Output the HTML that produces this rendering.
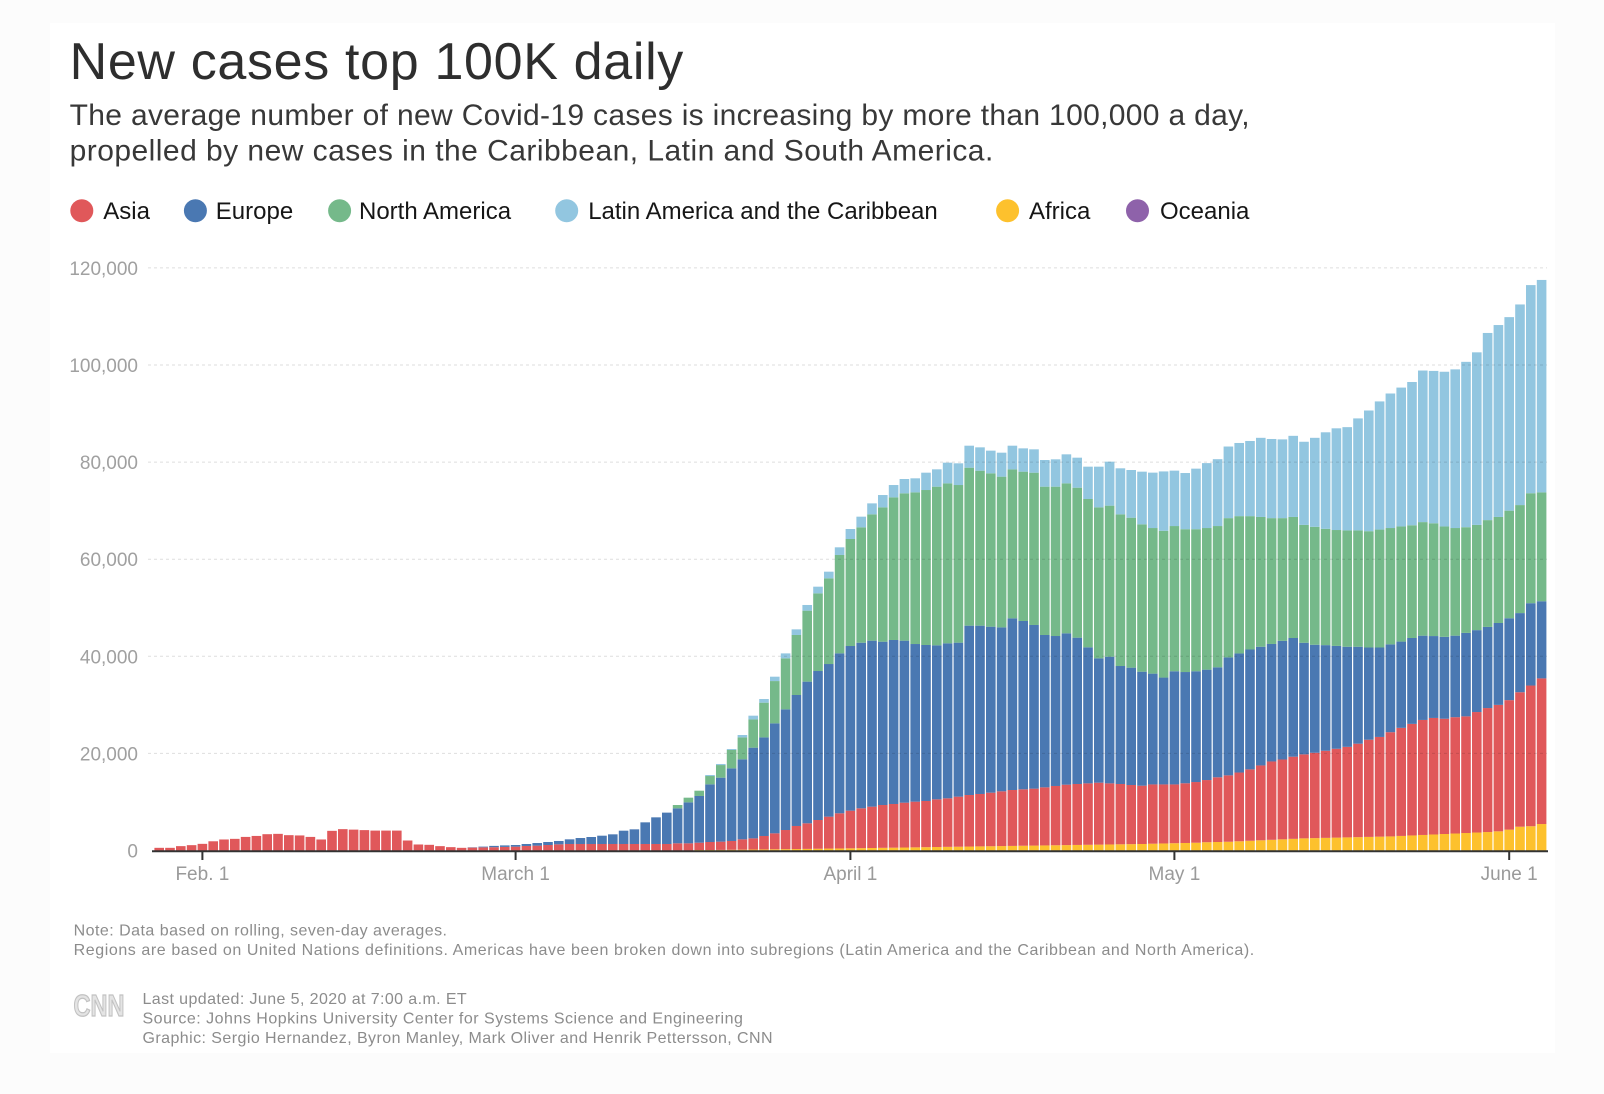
<!DOCTYPE html>
<html>
<head>
<meta charset="utf-8">
<style>
  html,body{margin:0;padding:0;background:#fcfcfc;}
  svg{display:block;font-family:"Liberation Sans",Arial,sans-serif;}
</style>
</head>
<body>
<svg id="chart" width="1604" height="1094" viewBox="0 0 1604 1094" xmlns="http://www.w3.org/2000/svg">
  <rect x="0" y="0" width="1604" height="1094" fill="#fcfcfc"/>
  <rect x="50" y="23" width="1505" height="1030" fill="#ffffff"/>

  <!-- Title -->
  <text x="69.6" y="79" font-size="52" fill="#2e2e2e" textLength="613.7" lengthAdjust="spacing">New cases top 100K daily</text>
  <text x="69.6" y="124.8" font-size="30" fill="#383838" textLength="1180" lengthAdjust="spacing">The average number of new Covid-19 cases is increasing by more than 100,000 a day,</text>
  <text x="69.6" y="160.6" font-size="30" fill="#383838" textLength="923.7" lengthAdjust="spacing">propelled by new cases in the Caribbean, Latin and South America.</text>

  <!-- Legend -->
  <g font-size="24" fill="#161616">
    <circle cx="81.8" cy="210.7" r="11.5" fill="#e0585a"/>
    <text x="103.3" y="219">Asia</text>
    <circle cx="195.4" cy="210.7" r="11.5" fill="#4a78b2"/>
    <text x="215.8" y="219">Europe</text>
    <circle cx="339.6" cy="210.7" r="11.5" fill="#75b98a"/>
    <text x="359" y="219">North America</text>
    <circle cx="566.7" cy="210.7" r="11.5" fill="#92c6e0"/>
    <text x="588.2" y="219">Latin America and the Caribbean</text>
    <circle cx="1007.6" cy="210.7" r="11.5" fill="#fdc12d"/>
    <text x="1029" y="219">Africa</text>
    <circle cx="1137.5" cy="210.7" r="11.5" fill="#8e62aa"/>
    <text x="1160" y="219">Oceania</text>
  </g>

  <!-- Y axis labels -->
  <g font-size="19" fill="#a0a0a0" text-anchor="end">
    <text x="138" y="274.9">120,000</text>
    <text x="138" y="372">100,000</text>
    <text x="138" y="469.1">80,000</text>
    <text x="138" y="566.2">60,000</text>
    <text x="138" y="663.3">40,000</text>
    <text x="138" y="760.4">20,000</text>
    <text x="138" y="857.5">0</text>
  </g>

  <!-- bars -->
  <g id="bars"></g>

  <!-- gridlines on top -->
  <g stroke="#000" stroke-opacity="0.13" stroke-width="1" stroke-dasharray="3,3">
    <line x1="148" y1="267.9" x2="1547" y2="267.9"/>
    <line x1="148" y1="365" x2="1547" y2="365"/>
    <line x1="148" y1="462.1" x2="1547" y2="462.1"/>
    <line x1="148" y1="559.2" x2="1547" y2="559.2"/>
    <line x1="148" y1="656.3" x2="1547" y2="656.3"/>
    <line x1="148" y1="753.4" x2="1547" y2="753.4"/>
  </g>

  <!-- baseline & ticks -->
  <line x1="152" y1="851.3" x2="1548" y2="851.3" stroke="#333" stroke-width="2"/>
  <g stroke="#333" stroke-width="2">
    <line x1="202.4" y1="851" x2="202.4" y2="860"/>
    <line x1="515.6" y1="851" x2="515.6" y2="860"/>
    <line x1="850.4" y1="851" x2="850.4" y2="860"/>
    <line x1="1174.4" y1="851" x2="1174.4" y2="860"/>
    <line x1="1509.2" y1="851" x2="1509.2" y2="860"/>
  </g>
  <g font-size="19" fill="#9a9a9a" text-anchor="middle">
    <text x="202.4" y="880">Feb. 1</text>
    <text x="515.6" y="880">March 1</text>
    <text x="850.4" y="880">April 1</text>
    <text x="1174.4" y="880">May 1</text>
    <text x="1509.2" y="880">June 1</text>
  </g>

  <!-- Notes -->
  <g font-size="16" fill="#8c8c8c">
    <text x="73.6" y="935.5" textLength="373.4" lengthAdjust="spacing">Note: Data based on rolling, seven-day averages.</text>
    <text x="73.6" y="955" textLength="1180.6" lengthAdjust="spacing">Regions are based on United Nations definitions. Americas have been broken down into subregions (Latin America and the Caribbean and North America).</text>
  </g>

  <!-- CNN logo -->
  <text x="73.5" y="1016" font-size="31" font-weight="bold" fill="#e4e4e4" stroke="#c2c2c2" stroke-width="1.3" textLength="51" lengthAdjust="spacingAndGlyphs">CNN</text>

  <!-- Footer -->
  <g font-size="16" fill="#8c8c8c">
    <text x="142.5" y="1004" textLength="324.2" lengthAdjust="spacing">Last updated: June 5, 2020 at 7:00 a.m. ET</text>
    <text x="142.5" y="1023.5" textLength="600.4" lengthAdjust="spacing">Source: Johns Hopkins University Center for Systems Science and Engineering</text>
    <text x="142.5" y="1043" textLength="630.1" lengthAdjust="spacing">Graphic: Sergio Hernandez, Byron Manley, Mark Oliver and Henrik Pettersson, CNN</text>
  </g>
</svg>

<script>
(function(){
  var R=[0.55,0.55,0.9,1.1,1.37,1.9,2.27,2.4,2.8,3.0,3.36,3.43,3.16,3.1,2.8,2.27,4.05,4.4,4.3,4.2,4.1,4.1,4.1,2.06,1.24,1.17,0.9,0.69,0.55,0.6,0.65,0.68,0.74,
  0.79,0.93,1.0,1.13,1.27,1.34,1.34,1.34,1.34,1.34,1.34,1.34,1.34,1.34,1.34,
  1.48,1.48,1.61,1.75,1.82,1.96,2.3,2.5,2.99,3.54,4.22,5.05,5.6,6.28,6.97,7.66,
  8.2,8.69,9.03,9.37,9.58,9.85,10.06,10.2,10.54,10.75,11.09,11.43,11.64,11.91,12.19,12.46,12.6,12.74,13.01,13.29,13.56,13.7,13.83,13.97,13.83,13.7,13.49,13.35,
  13.61,13.61,13.61,13.85,14.1,14.51,15.08,15.48,16.06,16.71,17.52,18.34,18.74,19.32,19.8,20.13,20.54,20.95,21.35,22.0,22.82,23.39,24.37,25.26,26.08,26.89,27.3,27.14,27.46,27.63,28.52,29.34,29.99,30.97,32.6,33.98,35.45];

  var B=[0.55,0.55,0.9,1.1,1.37,1.9,2.27,2.4,2.8,3.0,3.36,3.43,3.16,3.1,2.8,2.27,4.05,4.4,4.3,4.2,4.1,4.1,4.1,2.06,1.24,1.17,0.9,0.69,0.55,0.66,0.8,0.95,1.05,
  1.13,1.34,1.54,1.75,1.96,2.3,2.57,2.78,3.05,3.33,4.08,4.36,5.8,6.83,7.8,
  8.69,9.92,11.23,13.63,15.0,16.92,18.78,21.18,23.3,26.19,29.08,32.03,34.78,36.97,38.41,40.61,
  42.12,42.8,43.22,43.01,43.36,43.22,42.53,42.33,42.26,42.67,42.81,46.31,46.31,46.1,45.96,47.82,47.27,46.45,44.39,44.18,44.73,43.84,41.85,39.58,39.92,38.0,37.66,36.83,
  36.43,35.62,36.92,36.76,36.92,37.25,37.73,39.77,40.59,41.4,41.97,42.54,43.19,43.77,42.79,42.38,42.3,42.14,41.97,41.97,41.81,41.81,42.46,43.03,43.77,44.25,44.17,44.01,44.25,44.82,45.39,46.05,46.86,47.84,48.9,50.94,51.34];

  var Gs=[9.37,10.88,12.32,15.34,17.6,20.7,23.3,27.0,30.45,34.9,39.58,44.39,49.4,52.97,56.06,60.87,
  64.16,66.56,69.24,70.68,72.74,73.57,73.77,74.25,74.94,75.62,75.28,78.85,78.23,77.69,77.0,78.5,78.03,77.82,74.94,74.94,75.62,74.73,72.4,70.68,71.03,69.24,68.55,67.18,
  66.42,65.85,66.83,66.18,66.18,66.42,66.83,68.46,68.87,68.87,68.7,68.46,68.46,68.7,67.07,66.67,66.26,66.01,65.93,65.93,65.77,66.1,66.42,66.75,66.99,67.64,67.4,66.75,66.42,66.59,67.07,68.05,68.7,70.0,71.15,73.59,73.76];

  var Ls=[9.37,10.88,12.32,15.55,17.82,20.9,23.79,27.77,31.2,35.8,40.6,45.55,50.57,54.34,57.43,62.45,
  66.22,68.76,71.5,73.22,75.28,76.52,76.66,77.82,78.51,79.88,79.75,83.38,83.04,82.36,81.94,83.38,82.83,82.63,80.43,80.57,81.6,80.91,79.06,79.06,80.09,78.72,78.37,78.03,
  77.83,78.08,78.24,77.75,78.65,79.79,80.6,83.21,83.94,84.35,85.0,84.76,84.68,85.41,84.19,85.0,86.14,86.96,87.2,89.0,90.63,92.5,94.13,95.35,96.5,98.86,98.78,98.61,99.1,100.65,102.61,106.6,108.23,109.86,112.47,116.46,117.52];

  var A=[];
  var Alate=[1.4,1.45,1.5,1.55,1.6,1.7,1.75,1.8,1.9,2.0,2.1,2.2,2.3,2.4,2.5,2.55,2.6,2.65,2.7,2.75,2.8,2.85,2.9,3.0,3.1,3.2,3.3,3.4,3.5,3.6,3.7,3.8,3.95,4.3,4.9,5.0,5.45];
  var Amid=[0.1,0.1,0.12,0.15,0.17,0.2,0.22,0.25,0.28,0.3,0.33,0.36,0.4,0.42];
  for(var i=0;i<129;i++){
    if(i<50) A.push(0);
    else if(i<64) A.push(Amid[i-50]);
    else if(i<92) A.push(0.45+(i-64)*0.033);
    else A.push(Alate[i-92]);
  }
  var G=[],L=[];
  for(var i=0;i<129;i++){
    if(i<48){G.push(B[i]);L.push(B[i]);}
    else {G.push(Gs[i-48]);L.push(Ls[i-48]);}
  }
  function y(v){return 850.5-v*4.855;}
  var cols=["#fdc12d","#e0585a","#4a78b2","#75b98a","#92c6e0"];
  var step=10.8, w=9.6;
  var ns="http://www.w3.org/2000/svg";
  var g=document.getElementById("bars");
  for(var i=0;i<129;i++){
    var x=159.2+i*step-w/2;
    var lv=[0,A[i],R[i],B[i],G[i],L[i]];
    for(var k=0;k<5;k++){
      var lo=lv[k],hi=lv[k+1];
      if(hi-lo<=0.001) continue;
      var r=document.createElementNS(ns,"rect");
      r.setAttribute("x",x.toFixed(2));
      r.setAttribute("y",y(hi).toFixed(2));
      r.setAttribute("width",w);
      r.setAttribute("height",(y(lo)-y(hi)).toFixed(2));
      r.setAttribute("fill",cols[k]);
      g.appendChild(r);
    }
  }
})();
</script>
</body>
</html>
